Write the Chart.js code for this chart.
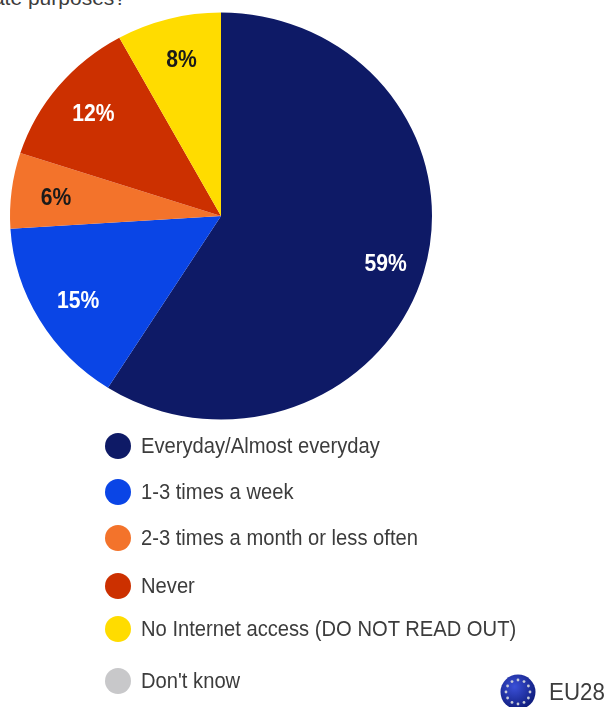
<!DOCTYPE html>
<html>
<head>
<meta charset="utf-8">
<script src="https://cdn.jsdelivr.net/npm/chart.js@4"></script>
<style>
  html, body { margin: 0; padding: 0; background: #fff; }
  body { position: relative; width: 606px; height: 707px; overflow: hidden; font-family: "Liberation Sans", Arial, sans-serif; color: #3c3c3c; }
  #pie-wrap { position: absolute; left: 0; top: 0; width: 442px; height: 442px; }
  #question { position: absolute; right: 480px; top: -14px; font-size: 21px; line-height: 24px; white-space: nowrap; }
  .legend-row { position: absolute; left: 105px; height: 26px; white-space: nowrap; font-size: 22px; line-height: 26px; }
  .legend-dot { position: absolute; left: 0; top: 0; width: 26px; height: 26px; border-radius: 50%; }
  .legend-text { position: absolute; left: 36px; top: 0; transform: scaleX(.917); transform-origin: left center; }
  #region { position: absolute; left: 549px; top: 680px; font-size: 23px; line-height: 24px; transform: scaleX(.97); transform-origin: left center; }
  #flag { position: absolute; left: 500px; top: 674px; filter: blur(.5px); }
</style>
</head>
<body>
<div id="question">for private purposes?</div>
<div id="pie-wrap"><canvas id="usagePie"></canvas></div>
<div id="legend"></div>
<svg id="flag" width="36" height="36" viewBox="-18 -18 36 36"></svg>
<div id="region">EU28</div>
<script>
const categories = ['Everyday/Almost everyday', '1-3 times a week', '2-3 times a month or less often', 'Never', 'No Internet access (DO NOT READ OUT)', "Don't know"];
const shares = [59, 15, 6, 12, 8, 0];
const sliceColors = ['#0e1a66', '#0a45e6', '#f3732b', '#cc3000', '#ffdc00', '#c8c8ca'];
const labelColors = ['#ffffff', '#ffffff', '#1a1a1a', '#ffffff', '#1a1a1a', '#1a1a1a'];
const legendTops = [433, 479, 525, 573, 616, 668];

// the pie is slightly flattened, so squeeze the arcs around the centre
const squashY = 203.5 / 211;

const squashPlugin = {
  id: 'squash',
  beforeDatasetsDraw(chart) {
    const arc = chart.getDatasetMeta(0).data[0];
    const ctx = chart.ctx;
    ctx.save();
    ctx.translate(arc.x, arc.y);
    ctx.scale(1, squashY);
    ctx.translate(-arc.x, -arc.y);
  },
  afterDatasetsDraw(chart) {
    chart.ctx.restore();
  }
};

// percent labels sit at 80% of the radius
const percentPlugin = {
  id: 'percentLabels',
  afterDraw(chart) {
    const ctx = chart.ctx;
    ctx.save();
    ctx.font = 'bold 24px "Liberation Sans", Arial, sans-serif';
    ctx.textAlign = 'center';
    ctx.textBaseline = 'middle';
    chart.getDatasetMeta(0).data.forEach(function (arc, i) {
      if (!shares[i]) return;
      const mid = (arc.startAngle + arc.endAngle) / 2;
      const r = arc.outerRadius * 0.8;
      ctx.fillStyle = labelColors[i];
      ctx.save();
      ctx.translate(arc.x + Math.cos(mid) * r + 2.5, arc.y + Math.sin(mid) * r * squashY + 2.5);
      ctx.scale(0.88, 1);
      ctx.fillText(shares[i] + '%', 0, 0);
      ctx.restore();
    });
    ctx.restore();
  }
};

new Chart(document.getElementById('usagePie'), {
  type: 'pie',
  data: {
    labels: categories,
    datasets: [{ data: shares, backgroundColor: sliceColors, borderWidth: 0 }]
  },
  options: {
    responsive: true,
    maintainAspectRatio: false,
    animation: false,
    layout: { padding: { left: 10, right: 10, top: 5, bottom: 15 } },
    plugins: { legend: { display: false }, tooltip: { enabled: false } }
  },
  plugins: [squashPlugin, percentPlugin]
});

// legend rows have uneven spacing, so they are laid out by hand
const legend = document.getElementById('legend');
categories.forEach(function (name, i) {
  const row = document.createElement('div');
  row.className = 'legend-row';
  row.style.top = legendTops[i] + 'px';
  const dot = document.createElement('span');
  dot.className = 'legend-dot';
  dot.style.background = sliceColors[i];
  const text = document.createElement('span');
  text.className = 'legend-text';
  text.textContent = name;
  row.append(dot, text);
  legend.appendChild(row);
});

// EU flag badge
const flag = document.getElementById('flag');
let flagMarkup = '<defs><radialGradient id="globe" cx="40%" cy="35%" r="70%"><stop offset="0" stop-color="#3b50d8"/><stop offset="1" stop-color="#0d1a78"/></radialGradient></defs><circle r="17.5" fill="url(#globe)"/>';
for (let a = 0; a < 12; a++) {
  const t = a * Math.PI / 6;
  flagMarkup += '<circle cx="' + (Math.cos(t) * 12).toFixed(1) + '" cy="' + (Math.sin(t) * 12).toFixed(1) + '" r="1.4" fill="#c8ccd8"/>';
}
flag.innerHTML = flagMarkup;
</script>
</body>
</html>
